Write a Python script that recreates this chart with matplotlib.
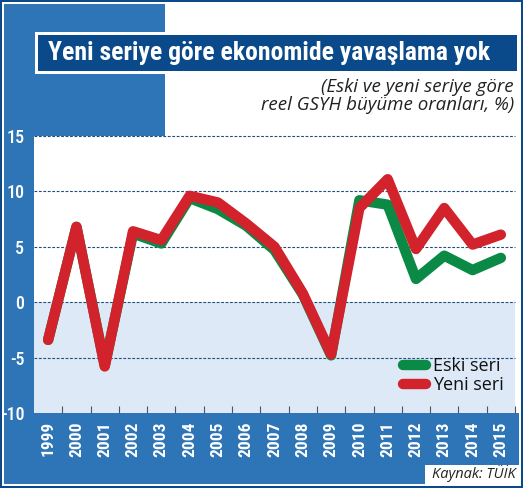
import matplotlib
matplotlib.use("Agg")
import matplotlib.pyplot as plt
from matplotlib import font_manager
from matplotlib.patches import Rectangle
from matplotlib.lines import Line2D

years = [1999, 2000, 2001, 2002, 2003, 2004, 2005, 2006, 2007, 2008,
         2009, 2010, 2011, 2012, 2013, 2014, 2015]
eski_seri = [-3.4, 6.8, -5.7, 6.2, 5.3, 9.4, 8.4, 6.9, 4.7, 0.7,
             -4.8, 9.2, 8.8, 2.1, 4.2, 2.9, 4.0]
yeni_seri = [-3.4, 6.8, -5.8, 6.4, 5.6, 9.6, 9.0, 7.1, 5.0, 0.8,
             -4.7, 8.5, 11.1, 4.8, 8.5, 5.2, 6.1]
yticks = [-10, -5, 0, 5, 10, 15]
title = "Yeni seriye göre ekonomide yavaşlama yok"
subtitle = "(Eski ve yeni seriye göre\nreel GSYH büyüme oranları, %)"
source = "Kaynak: TÜİK"
series_names = ["Eski seri", "Yeni seri"]

NAVY = "#0b4a8a"
BLUE = "#2e75b8"
LIGHT = "#dde9f6"
RED = "#d2232c"
GREEN = "#0a8a45"
GRID = "#1f4e7e"

available = {f.name for f in font_manager.fontManager.ttflist}
cond = None
for c in ["Roboto Condensed", "Liberation Sans Narrow", "Open Sans Condensed",
          "DejaVu Sans Condensed", "Noto Sans Condensed"]:
    if c in available:
        cond = c
        break
if cond is None:
    cond = "Roboto"
body = "Open Sans" if "Open Sans" in available else "DejaVu Sans"

W, H = 523, 488
fig = plt.figure(figsize=(W / 100, H / 100), dpi=100)
fig.patch.set_facecolor(NAVY)


def frect(x0, y0, x1, y1, color, z=0):
    fig.patches.append(Rectangle((x0 / W, 1 - y1 / H), (x1 - x0) / W, (y1 - y0) / H,
                                 transform=fig.transFigure, facecolor=color,
                                 edgecolor="none", zorder=z))


frect(2, 2, 521, 486, "white", 0)
frect(4, 4, 165, 413, BLUE, 1)
frect(4, 413, 519, 484, BLUE, 1)
frect(425, 465, 519, 484, "white", 2)
frect(35, 32, 520, 74, "white", 3)
frect(38, 35, 517, 71, NAVY, 4)

t = fig.text(48 / W, 1 - 53 / H, title, color="white", fontsize=20,
             fontweight="bold", family=cond, ha="left", va="center", zorder=10)
fig.canvas.draw()
bb = t.get_window_extent()
target = 440
if bb.width > target:
    t.set_fontsize(20 * target / bb.width)

fig.text(514 / W, 1 - 96 / H, subtitle, color="#222222", fontsize=13.5,
         style="italic", family=body, ha="right", va="center",
         linespacing=0.95, zorder=10)
fig.text(516 / W, 1 - 474 / H, source, color="#222222", fontsize=10.5,
         style="italic", family=body, ha="right", va="center", zorder=10)

ax = fig.add_axes([34 / W, 1 - 413 / H, (515 - 34) / W, (413 - 136) / H])
ax.set_zorder(5)
ax.set_facecolor("white")
ax.set_xlim(1998.5, 2015.5)
ax.set_ylim(-10, 15)
ax.axhspan(-10, 0, color=LIGHT, zorder=0, lw=0)
for s in ax.spines.values():
    s.set_visible(False)
for v in [-5, 0, 5, 10, 15]:
    ax.axhline(v, color=GRID, lw=0.8, ls=(0, (2.5, 1.5)), zorder=1, clip_on=False)

ax.plot(years, eski_seri, color=GREEN, lw=7.5, solid_capstyle="round",
        solid_joinstyle="round", zorder=3)
ax.plot(years, yeni_seri, color=RED, lw=7.5, solid_capstyle="round",
        solid_joinstyle="round", zorder=4)

ax.set_yticks(yticks)
ax.set_yticklabels([str(v) for v in yticks])
ax.tick_params(axis="y", length=0, pad=7, labelcolor="white", labelsize=13)
for lab in ax.get_yticklabels():
    lab.set_family(cond)
    lab.set_fontweight("medium")

ax.set_xticks(years)
ax.set_xticklabels([str(y) for y in years], rotation=90)
ax.tick_params(axis="x", which="major", length=0, pad=6, labelcolor="white",
               labelsize=12.5)
for lab in ax.get_xticklabels():
    lab.set_family(cond)
    lab.set_fontweight("bold")
ax.set_xticks([y + 0.5 for y in years], minor=True)
ax.tick_params(axis="x", which="minor", direction="in", length=5, width=0.8,
               color="#555555", labelbottom=False)

handles = [Line2D([0], [0], color=GREEN, lw=7.5, solid_capstyle="round"),
           Line2D([0], [0], color=RED, lw=7.5, solid_capstyle="round")]
leg = ax.legend(handles, series_names, loc="lower right",
                bbox_to_anchor=(1.0, 0.03), frameon=False, handlelength=1.3,
                handletextpad=0.4, labelspacing=0.05, borderaxespad=0.2,
                prop={"family": body, "size": 13})
for txt in leg.get_texts():
    txt.set_color("#111111")

fig.savefig("out.png", dpi=100, facecolor=fig.get_facecolor())
